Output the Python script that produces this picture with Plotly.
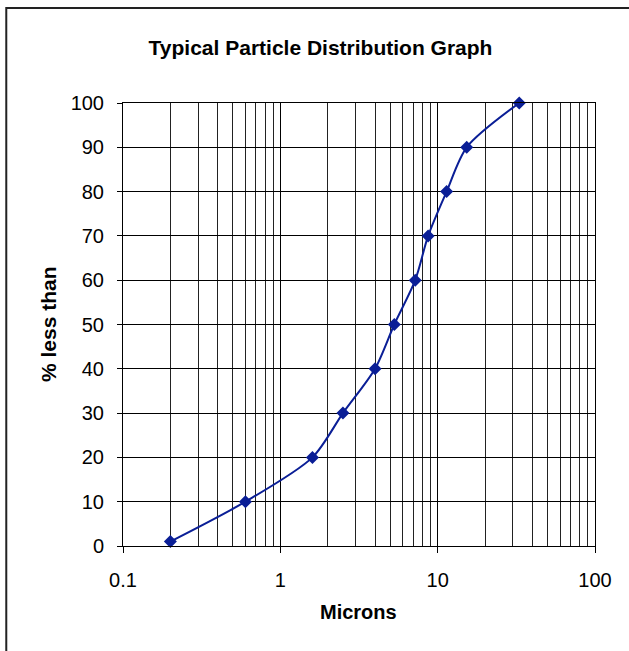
import plotly.graph_objects as go

microns = [0.2, 0.6, 1.6, 2.5, 4.0, 5.3, 7.2, 8.7, 11.4, 15.3, 33.0]
pct_less = [1, 10, 20, 30, 40, 50, 60, 70, 80, 90, 100]

x_major = [0.1, 1, 10, 100]
x_major_text = ["0.1", "1", "10", "100"]
x_minor = [m * d for d in (0.1, 1, 10) for m in range(2, 10)]

title_text = "Typical Particle Distribution Graph"
x_title = "Microns"
y_title = "% less than"

W, H = 629, 651
L, R, T, B = 122.7, 594.6, 103.0, 546.5

def px(x):
    return (x - L) / (R - L)

def py(y):
    return (B - y) / (B - T)

FONT = "Liberation Sans, Arial, sans-serif"
blue = "#0A1E96"

fig = go.Figure()
fig.add_trace(go.Scatter(
    x=microns, y=pct_less, mode="lines+markers",
    line=dict(color=blue, width=2, shape="spline", smoothing=0.8),
    marker=dict(symbol="diamond", size=10, color=blue),
    showlegend=False, cliponaxis=False,
))

fig.update_layout(
    width=W, height=H,
    margin=dict(l=L, r=W - R, t=T, b=H - B, pad=0),
    paper_bgcolor="white", plot_bgcolor="white",
    font=dict(family=FONT, color="black", size=20),
    title=dict(text="<b>" + title_text + "</b>", x=320.5 / W, xref="container",
               xanchor="center", y=1 - 47.5 / H, yref="container", yanchor="middle",
               font=dict(family=FONT, size=21, color="black")),
    xaxis=dict(type="log", range=[-1, 2], tickmode="array", tickvals=x_major,
               ticktext=x_major_text, ticks="outside", ticklen=6, tickcolor="black",
               showgrid=True, gridcolor="black", gridwidth=1,
               showline=True, linecolor="black", linewidth=1, mirror=True,
               ticklabelstandoff=10, tickfont=dict(size=20),
               minor=dict(tickmode="array", tickvals=x_minor, showgrid=True,
                          gridcolor="#222222", gridwidth=1, ticks=""),
               zeroline=False),
    yaxis=dict(range=[0, 100], dtick=10, tick0=0, ticks="outside", ticklen=5,
               tickcolor="black", showgrid=True, gridcolor="black", gridwidth=1,
               showline=True, linecolor="black", linewidth=1, mirror=True,
               ticklabelstandoff=9, tickfont=dict(size=20), zeroline=False),
    annotations=[
        dict(text="<b>" + x_title + "</b>", xref="paper", yref="paper",
             x=px(358.6), y=py(613), xanchor="center", yanchor="middle",
             showarrow=False, font=dict(size=20, family=FONT)),
        dict(text="<b>" + y_title + "</b>", xref="paper", yref="paper",
             x=px(48), y=py(324), xanchor="center", yanchor="middle",
             textangle=-90, showarrow=False, font=dict(size=21, family=FONT)),
    ],
    shapes=[dict(type="rect", xref="paper", yref="paper",
                 x0=px(6), x1=px(660), y0=py(680), y1=py(8),
                 line=dict(color="#222222", width=2), layer="below")],
)

fig.write_html("out.html", config={"displayModeBar": False},
               post_script="document.body.style.margin='0';")
